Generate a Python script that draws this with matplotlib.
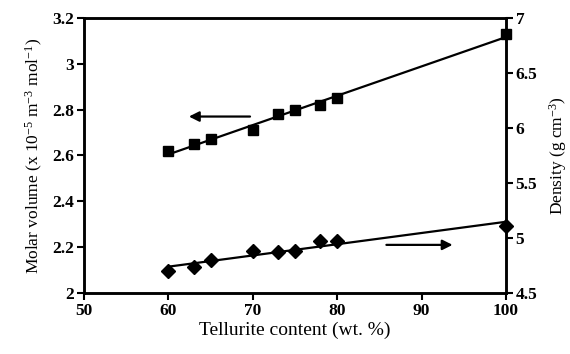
import numpy as np
import matplotlib
matplotlib.use("Agg")
import matplotlib.pyplot as plt

plt.rcParams['font.family'] = ['Liberation Serif', 'DejaVu Serif']
plt.rcParams['mathtext.fontset'] = 'custom'
plt.rcParams['mathtext.rm'] = 'Liberation Serif'
plt.rcParams['mathtext.it'] = 'Liberation Serif:italic'
plt.rcParams['mathtext.bf'] = 'Liberation Serif:bold'

tellurite = [60, 63, 65, 70, 73, 75, 78, 80, 100]
molar_volume = [2.62, 2.65, 2.67, 2.71, 2.78, 2.80, 2.82, 2.85, 3.13]
density = [4.70, 4.74, 4.80, 4.88, 4.87, 4.88, 4.97, 4.97, 5.11]

xticks = [50, 60, 70, 80, 90, 100]
yticks_left = [2, 2.2, 2.4, 2.6, 2.8, 3, 3.2]
ylabels_left = ['2', '2.2', '2.4', '2.6', '2.8', '3', '3.2']
yticks_right = [4.5, 5, 5.5, 6, 6.5, 7]
ylabels_right = ['4.5', '5', '5.5', '6', '6.5', '7']

fig = plt.figure(figsize=(5.7, 3.54), dpi=100)
ax = fig.add_axes([84/570, 1-293/354, (506-84)/570, (293-18)/354])
ax2 = ax.twinx()

x = np.array(tellurite, dtype=float)
p1 = np.polyfit(x, molar_volume, 1)
p2 = np.polyfit(x, density, 1)
xl = np.array([60, 100])

ax.plot(xl, np.polyval(p1, xl), color='black', lw=1.6, zorder=2)
ax.plot(x, molar_volume, 's', color='black', ms=7, zorder=3, clip_on=False)
ax2.plot(xl, np.polyval(p2, xl), color='black', lw=1.6, zorder=2)
ax2.plot(x, density, 'D', color='black', ms=7, zorder=3, clip_on=False)

ax.annotate('', xy=(62.1, 2.77), xytext=(70.0, 2.77),
            arrowprops=dict(arrowstyle='-|>', color='black', lw=1.6, mutation_scale=15))
ax.annotate('', xy=(94.0, 2.21), xytext=(85.5, 2.21),
            arrowprops=dict(arrowstyle='-|>', color='black', lw=1.6, mutation_scale=15))

ax.set_xlim(50, 100)
ax.set_ylim(2, 3.2)
ax2.set_ylim(4.5, 7)
ax.set_xticks(xticks)
ax.set_xticklabels([str(t) for t in xticks])
ax.set_yticks(yticks_left)
ax.set_yticklabels(ylabels_left)
ax2.set_yticks(yticks_right)
ax2.set_yticklabels(ylabels_right)

for a in (ax, ax2):
    for s in a.spines.values():
        s.set_linewidth(1.8)
    a.tick_params(direction='out', length=5, width=1.5, labelsize=12.5, pad=2)
    for lab in a.get_xticklabels() + a.get_yticklabels():
        lab.set_fontweight('bold')

ax.set_xlabel('Tellurite content (wt. %)', fontsize=14, labelpad=2)
ax.set_ylabel(r'Molar volume (x 10$^{-5}$ m$^{-3}$ mol$^{-1}$)',
              fontsize=12.5, labelpad=5)
ax2.set_ylabel(r'Density (g cm$^{-3}$)', fontsize=12.5, labelpad=7)

fig.savefig('out.png', dpi=100)
